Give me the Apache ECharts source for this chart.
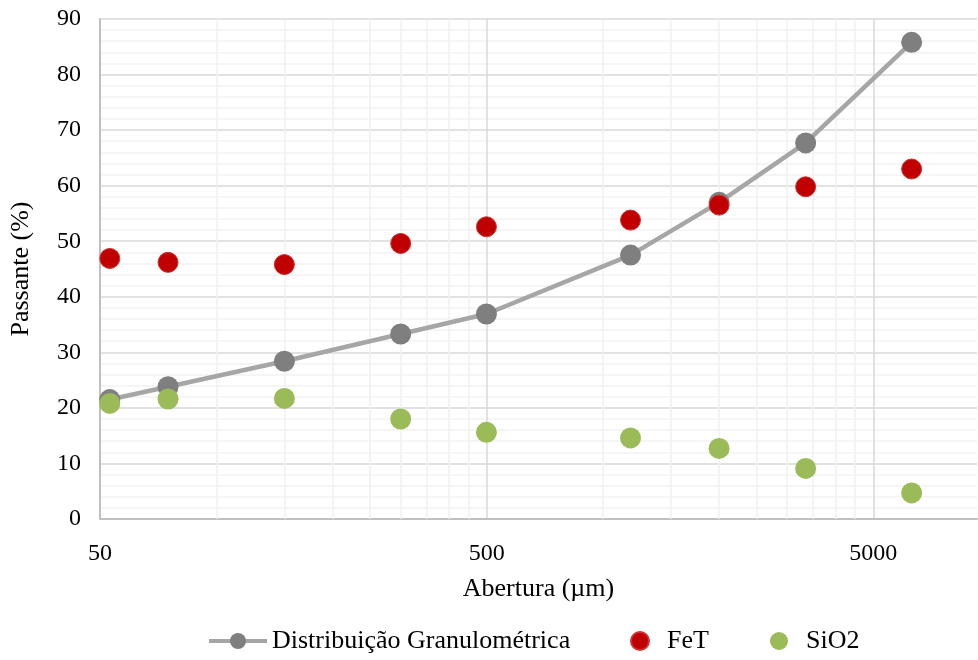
<!DOCTYPE html>
<html>
<head>
<meta charset="utf-8">
<title>Passante x Abertura</title>
<script src="https://cdn.jsdelivr.net/npm/echarts@6/dist/echarts.min.js"></script>
<style>
  html, body { margin: 0; padding: 0; background: #fff; }
  #chart { width: 978px; height: 660px; }
</style>
</head>
<body>
<div id="chart"></div>
<script>
// abertura das peneiras (µm)
var aberturas = [53, 75, 150, 300, 500, 1180, 2000, 3350, 6300];
// passante acumulado (%)
var distGranulo = [21.5, 23.8, 28.4, 33.3, 36.9, 47.5, 57.0, 67.7, 85.8];
// teores por faixa (%)
var teorFeT = [46.9, 46.2, 45.8, 49.6, 52.6, 53.8, 56.5, 59.8, 63.0];
var teorSiO2 = [20.8, 21.6, 21.7, 18.0, 15.6, 14.6, 12.7, 9.1, 4.7];
// rótulos dos eixos
var xTicks = [50, 500, 5000];
var yTicks = [0, 10, 20, 30, 40, 50, 60, 70, 80, 90];

var fonte = '"Liberation Serif", "Times New Roman", serif';

function pares(vals) {
    return aberturas.map(function (a, i) { return [a, vals[i]]; });
}

// rótulo do eixo x: o tick mais próximo da lista (evita 501, 5012)
function rotuloX(v) {
    var melhor = xTicks[0];
    xTicks.forEach(function (t) {
        if (Math.abs(Math.log10(t / v)) < Math.abs(Math.log10(melhor / v))) melhor = t;
    });
    return String(melhor);
}

// linhas de grade secundárias do eixo log (2x, 3x ... 9x de cada década)
var gradeMenor = [];
xTicks.forEach(function (d) {
    for (var k = 2; k <= 9; k++) {
        if (d * k < 9300) gradeMenor.push({ xAxis: d * k });
    }
});

var chart = echarts.init(document.getElementById('chart'));

var legendaTexto = { fontFamily: fonte, fontSize: 26, color: '#000' };

var option = {
    animation: false,
    backgroundColor: '#fff',
    grid: { left: 98, right: 1, top: 19, bottom: 141 },
    legend: [
        {
            data: ['Distribuição Granulométrica'],
            left: 202, top: 623, itemWidth: 58, itemHeight: 20, itemGap: 5,
            lineStyle: { width: 4, color: '#a6a6a6' },
            textStyle: legendaTexto
        },
        {
            data: ['FeT'],
            left: 625, top: 623, itemWidth: 44, itemHeight: 18, icon: 'circle',
            textStyle: legendaTexto
        },
        {
            data: ['SiO2'],
            left: 765, top: 623, itemWidth: 44, itemHeight: 18, icon: 'circle',
            textStyle: legendaTexto
        }
    ],
    xAxis: {
        type: 'log',
        logBase: 10,
        min: 50,
        max: 9300,
        interval: 1,
        name: 'Abertura (µm)',
        nameLocation: 'middle',
        nameGap: 57,
        nameTextStyle: { fontFamily: fonte, fontSize: 26, color: '#000' },
        axisLine: { show: true, lineStyle: { color: '#bfbfbf', width: 2 } },
        axisTick: { show: false },
        axisLabel: {
            fontFamily: fonte, fontSize: 24, color: '#000', margin: 23,
            showMaxLabel: false,
            formatter: rotuloX
        },
        splitLine: {
            show: true,
            showMaxLine: false,
            lineStyle: { color: '#d9d9d9', width: 1.5 }
        }
    },
    yAxis: {
        type: 'value',
        min: yTicks[0],
        max: yTicks[yTicks.length - 1],
        interval: 10,
        name: 'Passante (%)',
        nameLocation: 'middle',
        nameGap: 66,
        nameRotate: 90,
        nameTextStyle: { fontFamily: fonte, fontSize: 26, color: '#000' },
        axisLine: { show: true, lineStyle: { color: '#bfbfbf', width: 2 } },
        axisTick: { show: false },
        axisLabel: { fontFamily: fonte, fontSize: 24, color: '#000', margin: 19 },
        splitLine: { lineStyle: { color: '#d9d9d9', width: 1.5 } },
        minorTick: { show: false, splitNumber: 5 },
        minorSplitLine: { show: true, lineStyle: { color: '#f2f2f2', width: 1.5 } }
    },
    series: [
        {
            // só para as linhas de grade verticais secundárias
            type: 'line',
            data: [],
            silent: true,
            z: 1,
            markLine: {
                silent: true,
                z: 1,
                symbol: 'none',
                label: { show: false },
                lineStyle: { color: '#f0f0f0', width: 1.5, type: 'solid' },
                data: gradeMenor
            }
        },
        {
            name: 'Distribuição Granulométrica',
            type: 'line',
            data: pares(distGranulo),
            symbol: 'circle',
            symbolSize: 21,
            z: 3,
            itemStyle: { color: '#7f7f7f', opacity: 1 },
            lineStyle: { color: '#a6a6a6', width: 4.5 }
        },
        {
            name: 'FeT',
            type: 'scatter',
            data: pares(teorFeT),
            symbolSize: 20,
            z: 4,
            itemStyle: { color: '#c00000', borderColor: '#cc3333', borderWidth: 1, opacity: 1 }
        },
        {
            name: 'SiO2',
            type: 'scatter',
            data: pares(teorSiO2),
            symbolSize: 21,
            z: 5,
            itemStyle: { color: '#9bbb59', opacity: 1 }
        }
    ]
};

chart.setOption(option);
</script>
</body>
</html>
